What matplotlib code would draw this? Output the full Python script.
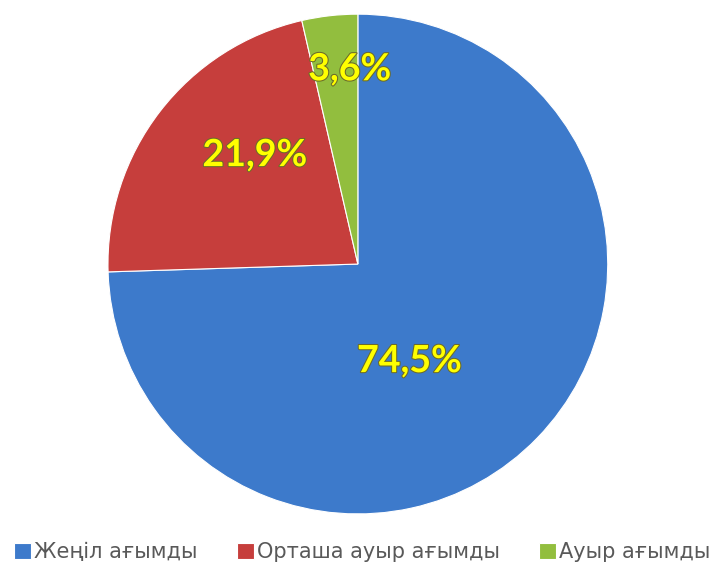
import matplotlib.pyplot as plt
import matplotlib.patheffects as pe
import numpy as np

# data
categories = ["Жеңіл ағымды", "Орташа ауыр ағымды", "Ауыр ағымды"]
shares = [74.5, 21.9, 3.6]
pct_labels = ["74,5%", "21,9%", "3,6%"]
colors = ["#3D7ACB", "#C63E3C", "#92BE3E"]

# where the value labels sit (radius fraction, angle in degrees)
label_r = [0.44, 0.60, 0.78]
label_ang = [-62, 133.4, 92.4]

fig = plt.figure(figsize=(7.16, 5.74), dpi=100)
ax = fig.add_axes([0.1508, 0.1045, 0.698, 0.871])

wedges, _ = ax.pie(shares, colors=colors, startangle=90, counterclock=False,
                   wedgeprops=dict(linewidth=0.8, edgecolor="#ffffff"))
ax.set_aspect("equal")
ax.set_xlim(-1, 1)
ax.set_ylim(-1, 1)

for txt, r, a in zip(pct_labels, label_r, label_ang):
    t = np.deg2rad(a)
    ax.text(r * np.cos(t), r * np.sin(t), txt, ha="center", va="center",
            fontsize=27, fontweight="bold", family="Lato", color="#FFFF00",
            path_effects=[pe.withStroke(linewidth=1.5, foreground="#6b6b2a")])

leg = fig.legend(wedges, categories, loc="center", bbox_to_anchor=(0.506, 0.038),
                 ncol=3, frameon=False, fontsize=15, handlelength=0.8,
                 handleheight=0.8, handletextpad=0.15, columnspacing=1.9)
for t in leg.get_texts():
    t.set_color("#595959")

fig.savefig("out.png", dpi=100)
